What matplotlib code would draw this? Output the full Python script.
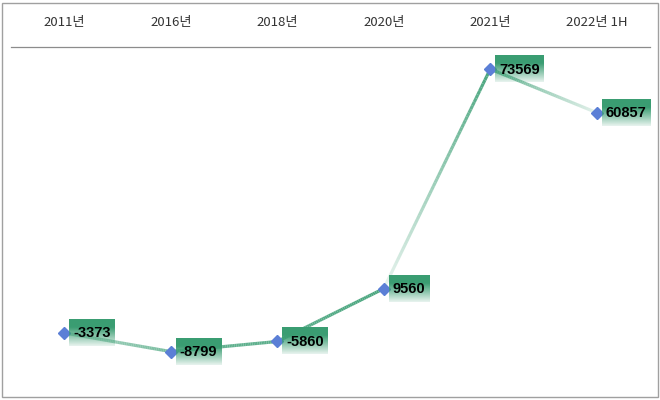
import numpy as np
import matplotlib.pyplot as plt
from matplotlib.collections import LineCollection
from matplotlib.colors import to_rgb
from matplotlib.patches import Rectangle

plt.rcParams['font.family'] = ['Noto Sans CJK KR', 'DejaVu Sans']

years = ['2011년', '2016년', '2018년', '2020년', '2021년', '2022년 1H']
values = [-3373, -8799, -5860, 9560, 73569, 60857]
# fade of each segment (start alpha, end alpha)
seg_alpha = [(0.45, 0.75), (0.85, 0.9), (0.9, 1.0), (0.12, 1.0), (0.9, 0.15)]

green = to_rgb('#4aa67f')
box_green = to_rgb('#3a9d72')

fig = plt.figure(figsize=(6.6, 4), dpi=100)
fig.patches.append(Rectangle((2/660, 3/400), 656/660, 394/400, transform=fig.transFigure,
                             fill=False, edgecolor='#a0a0a0', linewidth=1))
ax = fig.add_axes([11/660, 10/400, 639/660, 343/400])
ax.set_xlim(-0.5, 5.5)
ax.set_ylim(-20000, 80000)

x = np.arange(len(values))
# gradient line segments
for i in range(len(values) - 1):
    n = 60
    xs = np.linspace(x[i], x[i+1], n + 1)
    ys = np.linspace(values[i], values[i+1], n + 1)
    pts = np.column_stack([xs, ys]).reshape(-1, 1, 2)
    segs = np.concatenate([pts[:-1], pts[1:]], axis=1)
    a = np.linspace(seg_alpha[i][0], seg_alpha[i][1], n)
    cols = [(*green, aa) for aa in a]
    ax.add_collection(LineCollection(segs, colors=cols, linewidth=2.3, capstyle='butt', zorder=2))

ax.plot(x, values, linestyle='none', marker='D', markersize=6, color='#5b7fd6', zorder=4)

texts = []
for xi, v in zip(x, values):
    t = ax.annotate(str(v), (xi, v), xytext=(6.5, -3.2), textcoords='offset points',
                    ha='left', va='baseline', fontsize=10.5, fontweight='bold',
                    family='Liberation Sans', color='black', zorder=6)
    texts.append(t)

ax.set_xticks(x)
ax.set_xticklabels(years, fontsize=9.5, color='#333333')
ax.xaxis.tick_top()
ax.tick_params(axis='x', length=0, pad=13)
ax.set_yticks([])
for s in ['left', 'right', 'bottom']:
    ax.spines[s].set_visible(False)
ax.spines['top'].set_color('#8c8c8c')
ax.spines['top'].set_linewidth(0.9)

# gradient boxes behind labels
fig.canvas.draw()
r = fig.canvas.get_renderer()
inv = ax.transData.inverted()
grad = np.ones((60, 1, 4))
grad[:, 0, :3] = box_green
tt = np.linspace(0, 1, 60)
grad[:, 0, 3] = np.where(tt < 0.3, 1.0, 1.0 - (tt - 0.3) / 0.7 * 0.88)
for t, xi, v in zip(texts, x, values):
    bb = t.get_window_extent(r)
    mx, my = ax.transData.transform((xi, v))
    (x0, y0) = inv.transform((bb.x0 - 4, my - 13))
    (x1, y1) = inv.transform((bb.x1 + 4, my + 14))
    ax.imshow(grad, extent=(x0, x1, y0, y1), aspect='auto', zorder=5, interpolation='bilinear')

ax.set_xlim(-0.5, 5.5)
ax.set_ylim(-20000, 80000)

fig.savefig('out.png', dpi=100)
